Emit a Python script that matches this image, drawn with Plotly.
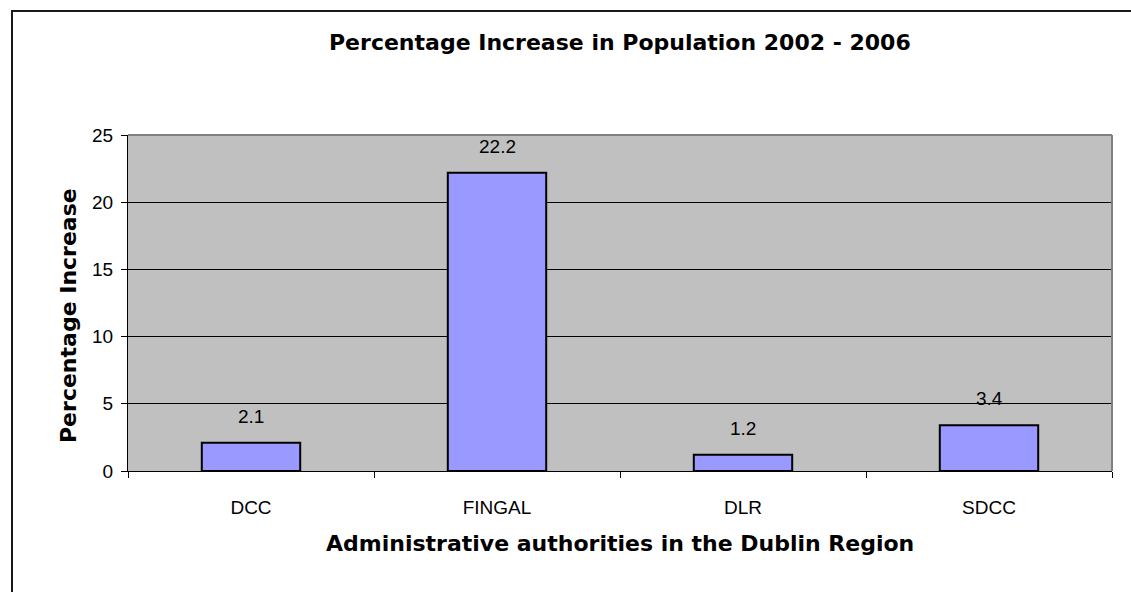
import plotly.graph_objects as go

# Population growth by Dublin local authority, 2002-2006
authorities = ["DCC", "FINGAL", "DLR", "SDCC"]
pct_increase = [2.1, 22.2, 1.2, 3.4]
y_ticks = [0, 5, 10, 15, 20, 25]

W, H = 1131, 592
L, R, T, B = 128, 1112, 135, 471  # plot area in pixels


def px_x(p):
    return (p - L) / (R - L)


def px_y(p):
    return (B - p) / (B - T)


fig = go.Figure()
fig.add_trace(go.Bar(
    x=authorities,
    y=pct_increase,
    marker=dict(color="#9999FF", line=dict(color="black", width=2)),
    hoverinfo="x+y",
))

# value labels above each bar
for cat, val in zip(authorities, pct_increase):
    fig.add_annotation(
        x=cat, y=val, text=str(val), showarrow=False,
        yanchor="bottom", yshift=14,
        font=dict(family="Liberation Sans, Arial", size=19, color="black"),
    )

title_font = dict(family="DejaVu Sans", size=22, color="black", weight="bold")

fig.add_annotation(
    xref="paper", yref="paper", x=0.5, y=px_y(42),
    text="Percentage Increase in Population 2002 - 2006",
    showarrow=False, xanchor="center", yanchor="middle", font=title_font,
)
fig.add_annotation(
    xref="paper", yref="paper", x=0.5, y=px_y(543),
    text="Administrative authorities in the Dublin Region",
    showarrow=False, xanchor="center", yanchor="middle", font=title_font,
)
fig.add_annotation(
    xref="paper", yref="paper", x=px_x(68), y=px_y(316),
    text="Percentage Increase", textangle=-90,
    showarrow=False, xanchor="center", yanchor="middle", font=title_font,
)

# grey plot frame on top and right, outer chart border
fig.add_shape(type="line", xref="paper", yref="paper", x0=0, x1=1, y0=1, y1=1,
              line=dict(color="#808080", width=2))
fig.add_shape(type="line", xref="paper", yref="paper", x0=1, x1=1, y0=0, y1=1,
              line=dict(color="#808080", width=2))
fig.add_shape(type="rect", xref="paper", yref="paper",
              x0=px_x(12), x1=px_x(1160), y0=px_y(620), y1=px_y(11),
              line=dict(color="#1a1a1a", width=2), layer="below")

fig.update_layout(
    width=W, height=H,
    margin=dict(l=L, r=W - R, t=T, b=H - B, pad=0),
    paper_bgcolor="white",
    plot_bgcolor="#C0C0C0",
    bargap=0.6,
    showlegend=False,
    font=dict(family="Liberation Sans, Arial", size=19, color="black"),
    xaxis=dict(
        showline=True, linecolor="black", linewidth=1,
        ticks="outside", tickson="boundaries", ticklen=6, tickcolor="black",
        showgrid=False, tickfont=dict(size=19), ticklabelstandoff=19,
    ),
    yaxis=dict(
        range=[0, 25], tickvals=y_ticks,
        showline=True, linecolor="black", linewidth=1,
        ticks="outside", ticklen=6, tickcolor="black",
        showgrid=True, gridcolor="black", gridwidth=1, zeroline=False,
        tickfont=dict(size=19), ticklabelstandoff=4,
    ),
)

fig.write_html("out.html")
